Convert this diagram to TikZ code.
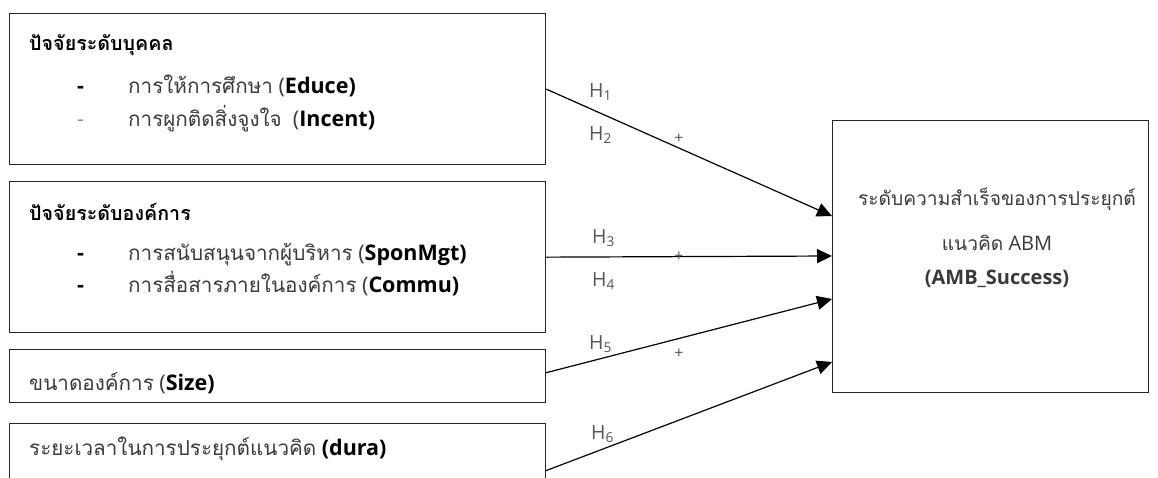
\documentclass[tikz,border=0pt]{standalone}
\usepackage{fontspec}
\setmainfont{Open Sans}
\newfontfamily\thai[Script=Thai,Scale=0.96]{Loma}
\usetikzlibrary{arrows.meta}
\definecolor{txtgray}{HTML}{3A3A3A}
\definecolor{hgray}{HTML}{555555}
\definecolor{dashgray}{HTML}{8A8A8A}
\tikzset{
  box/.style={draw=black!85, line width=1.3pt, anchor=north west, inner sep=0pt},
  txt/.style={anchor=base west, inner sep=0pt, font=\fontsize{21.5}{25}\selectfont, text=txtgray},
  head/.style={anchor=base west, inner sep=0pt, font=\fontsize{20.5}{24}\selectfont\bfseries, text=black},
  dashmark/.style={anchor=base west, inner sep=0pt, font=\fontsize{21.5}{25}\selectfont},
  hlab/.style={anchor=base west, inner sep=0pt, font=\fontsize{19.5}{23}\selectfont, text=hgray},
  plus/.style={inner sep=0pt, font=\fontsize{16}{18}\selectfont, text=hgray},
  arr/.style={line width=1.2pt, -{Triangle[length=15pt,width=14pt]}},
  rtxt/.style={anchor=base, inner sep=0pt, font=\fontsize{20}{24}\selectfont, text=txtgray}
}
\begin{document}
\begin{tikzpicture}[x=1pt,y=-1pt]
\useasboundingbox (0,0) rectangle (1158,477);
\clip (0,0) rectangle (1158,477);
% boxes
\node[box, minimum width=536pt, minimum height=151pt] (b1) at (9,13) {};
\node[box, minimum width=536pt, minimum height=151pt] (b2) at (9,181) {};
\node[box, minimum width=536pt, minimum height=53pt] (b3) at (9,349) {};
\node[box, minimum width=536pt, minimum height=96pt] (b4) at (9,423) {};
\node[box, minimum width=316pt, minimum height=272pt] (r) at (832,120) {};
% box 1 text
\node[head] (h1) at (29,50) {\thai ปัจจัยระดับบุคคล};
\node[dashmark, font=\fontsize{21.5}{25}\selectfont\bfseries] (d11) at (77,93) {-};
\node[txt] (i11) at (128,93) {{\thai การให้การศึกษา} (\textbf{\color{black}Educe)}};
\node[dashmark, text=dashgray] (d12) at (77,126) {-};
\node[txt] (i12) at (128,126) {{\thai การผูกติดสิ่งจูงใจ}\ \ (\textbf{\color{black}Incent)}};
% box 2 text
\node[head] (h2) at (29,220) {\thai ปัจจัยระดับองค์การ};
\node[dashmark, font=\fontsize{21.5}{25}\selectfont\bfseries] (d21) at (77,260) {-};
\node[txt] (i21) at (128,260) {{\thai การสนับสนุนจากผู้บริหาร} (\textbf{\color{black}SponMgt)}};
\node[dashmark, font=\fontsize{21.5}{25}\selectfont\bfseries] (d22) at (77,292) {-};
\node[txt] (i22) at (128,292) {{\thai การสื่อสารภายในองค์การ} (\textbf{\color{black}Commu)}};
% box 3, 4 text
\node[txt] (t3) at (29,390) {{\thai ขนาดองค์การ} (\textbf{\color{black}Size)}};
\node[txt] (t4) at (29,455) {{\thai ระยะเวลาในการประยุกต์แนวคิด} \textbf{\color{black}(dura)}};
% right box text
\node[rtxt] (r1) at (997,205) {\thai ระดับความสำเร็จของการประยุกต์};
\node[rtxt] (r2) at (997,250) {{\thai แนวคิด} ABM};
\node[rtxt, font=\fontsize{20}{24}\selectfont\bfseries] (r3) at (997,284) {(AMB\_Success)};
% target points
\coordinate (t1) at (832,216);
\coordinate (t2) at (832,256);
\coordinate (t3p) at (832,299);
\coordinate (t4p) at (832,362);
\coordinate (s3) at (545,373);
\coordinate (s4) at (545,471);
% arrows
\draw[arr] (b1.east) -- (t1);
\draw[arr] (b2.east) -- (t2);
\draw[arr] (s3) -- (t3p);
\draw[arr] (s4) -- (t4p);
% labels
\node[hlab] (H1) at (589,97) {H\textsubscript{1}};
\node[hlab] (H2) at (589,140) {H\textsubscript{2}};
\node[hlab] (H3) at (592,243) {H\textsubscript{3}};
\node[hlab] (H4) at (592,286) {H\textsubscript{4}};
\node[hlab] (H5) at (589,349) {H\textsubscript{5}};
\node[hlab] (H6) at (591,439) {H\textsubscript{6}};
\node[plus] (p1) at (679,139) {+};
\node[plus] (p2) at (679,257) {+};
\node[plus] (p3) at (679,354) {+};
\end{tikzpicture}
\end{document}
